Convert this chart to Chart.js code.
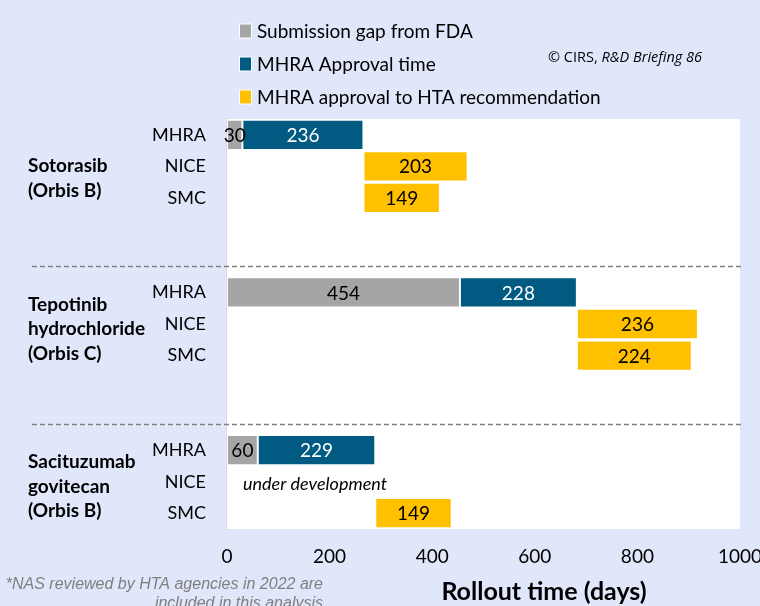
<!DOCTYPE html>
<html>
<head>
<meta charset="utf-8">
<script src="https://cdn.jsdelivr.net/npm/chart.js@4"></script>
<style>
  html, body { margin: 0; padding: 0; background: #E1E7FA; }
  #wrap { width: 760px; height: 606px; }
</style>
</head>
<body>
<div id="wrap"><canvas id="myChart" width="760" height="606"></canvas></div>
<script>
const drugs = [
  ["Sotorasib", "(Orbis B)"],
  ["Tepotinib", "hydrochloride", "(Orbis C)"],
  ["Sacituzumab", "govitecan", "(Orbis B)"],
];
const agencies = ["MHRA", "NICE", "SMC"];
const gapDays = [30, 454, 60];
const mhraDays = [236, 228, 229];
const niceDays = [203, 236, null];
const smcDays = [149, 224, 149];
const xTicks = [0, 200, 400, 600, 800, 1000];

const colors = {
  gap: "#A5A5A5",
  mhra: "#005A82",
  hta: "#FFC000",
};

// rows: 3 agencies per drug, 2 empty rows between drugs
const labels = [];
const gapData = [];
const mhraData = [];
const htaData = [];
drugs.forEach((d, i) => {
  const start = gapDays[i];
  const approved = gapDays[i] + mhraDays[i];
  labels.push(...agencies);
  gapData.push([0, start], null, null);
  mhraData.push([start, approved], null, null);
  htaData.push(
    null,
    niceDays[i] == null ? null : [approved, approved + niceDays[i]],
    smcDays[i] == null ? null : [approved, approved + smcDays[i]]
  );
  if (i < drugs.length - 1) {
    labels.push("", "");
    gapData.push(null, null);
    mhraData.push(null, null);
    htaData.push(null, null);
  }
});

const FONT = "Lato, 'Open Sans', sans-serif";

const decorations = {
  id: "decorations",
  beforeDatasetsDraw(chart) {
    const { ctx, chartArea } = chart;
    ctx.save();
    ctx.fillStyle = "#FFFFFF";
    ctx.fillRect(chartArea.left, chartArea.top, chartArea.right - chartArea.left, chartArea.bottom - chartArea.top);
    ctx.restore();
  },
  afterDatasetsDraw(chart) {
    const { ctx, chartArea, scales } = chart;
    const y = scales.y;
    ctx.save();

    // value labels
    ctx.font = "19px " + FONT;
    ctx.textAlign = "center";
    ctx.textBaseline = "middle";
    chart.data.datasets.forEach((ds, di) => {
      const meta = chart.getDatasetMeta(di);
      meta.data.forEach((bar, idx) => {
        const v = ds.data[idx];
        if (!v) return;
        const cx = (bar.x + bar.base) / 2;
        ctx.fillStyle = di === 1 ? "#FFFFFF" : "#000000";
        ctx.fillText(String(v[1] - v[0]), cx, bar.y + 1);
      });
    });

    // separators between drugs
    ctx.strokeStyle = "#7F7F7F";
    ctx.lineWidth = 1.5;
    ctx.setLineDash([5, 3]);
    [4.17, 9.17].forEach((v) => {
      const py = Math.round(y.getPixelForValue(v)) + 0.5;
      ctx.beginPath();
      ctx.moveTo(32, py);
      ctx.lineTo(742, py);
      ctx.stroke();
    });
    ctx.setLineDash([]);

    // drug names
    ctx.font = "bold 19px " + FONT;
    ctx.fillStyle = "#000000";
    ctx.textAlign = "left";
    drugs.forEach((lines, i) => {
      const niceY = y.getPixelForValue(i * 5 + 1);
      const center = niceY + (lines.length === 2 ? 12 : 5);
      const lh = 24.5;
      lines.forEach((t, k) => {
        ctx.fillText(t, 28, center + (k - (lines.length - 1) / 2) * lh);
      });
      if (niceDays[i] == null) {
        ctx.save();
        ctx.font = "italic 18px " + FONT;
        ctx.fillText("under development", chartArea.left + 16, niceY + 2);
        ctx.restore();
      }
    });

    // legend
    ctx.font = "19px " + FONT;
    chart.data.datasets.forEach((ds, di) => {
      const ly = 31 + di * 33;
      ctx.fillStyle = "#FFFFFF";
      ctx.fillRect(239, ly - 7.5, 13, 15);
      ctx.fillStyle = ds.backgroundColor;
      ctx.fillRect(240, ly - 6.5, 11, 13);
      ctx.fillStyle = "#000000";
      ctx.fillText(ds.label, 257, ly + 1);
    });

    // source
    ctx.font = "14.5px 'Open Sans', sans-serif";
    const part1 = "\u00A9 CIRS, ";
    ctx.fillText(part1, 548, 58);
    const w1 = ctx.measureText(part1).width;
    ctx.font = "italic 14.5px 'Open Sans', sans-serif";
    ctx.fillText("R&D Briefing 86", 548 + w1, 58);

    // axis title
    ctx.font = "bold 25px " + FONT;
    ctx.textAlign = "center";
    ctx.fillText("Rollout time (days)", 544, 592);

    // footnote
    ctx.font = "italic 16px 'Liberation Sans', Arial, sans-serif";
    ctx.fillStyle = "#7F7F7F";
    ctx.textAlign = "right";
    ctx.fillText("*NAS reviewed by HTA agencies in 2022 are", 323, 585);
    ctx.fillText("included in this analysis", 323, 604);

    ctx.restore();
  },
};

const ctx = document.getElementById("myChart");
const chart = new Chart(ctx, {
  type: "bar",
  data: {
    labels: labels,
    datasets: [
      { label: "Submission gap from FDA", data: gapData, backgroundColor: colors.gap },
      { label: "MHRA Approval time", data: mhraData, backgroundColor: colors.mhra },
      { label: "MHRA approval to HTA recommendation", data: htaData, backgroundColor: colors.hta },
    ].map((d) => ({
      ...d,
      borderColor: "#FFFFFF",
      borderWidth: 1,
      borderSkipped: false,
      barPercentage: 0.96,
      categoryPercentage: 1,
      grouped: false,
    })),
  },
  options: {
    indexAxis: "y",
    responsive: false,
    animation: false,
    layout: { padding: { top: 119, right: 20, left: 0, bottom: 0 } },
    plugins: {
      legend: { display: false },
      tooltip: { enabled: false },
    },
    scales: {
      x: {
        min: 0,
        max: 1000,
        afterBuildTicks: (s) => {
          s.ticks = xTicks.map((v) => ({ value: v }));
        },
        afterFit: (s) => {
          s.height = 77;
          s.paddingLeft = 0;
          s.paddingRight = 0;
        },
        grid: { display: false, drawTicks: false },
        border: { display: false },
        ticks: {
          padding: 16,
          color: "#000000",
          font: { family: FONT, size: 19 },
          callback: (v) => String(v),
        },
      },
      y: {
        afterFit: (s) => {
          s.width = 227;
        },
        grid: { display: false, drawTicks: false },
        border: { display: true, color: "#D9D9D9", width: 2 },
        ticks: {
          padding: 21,
          color: "#000000",
          autoSkip: false,
          font: { family: FONT, size: 18 },
        },
      },
    },
  },
  plugins: [decorations],
});
</script>
</body>
</html>
